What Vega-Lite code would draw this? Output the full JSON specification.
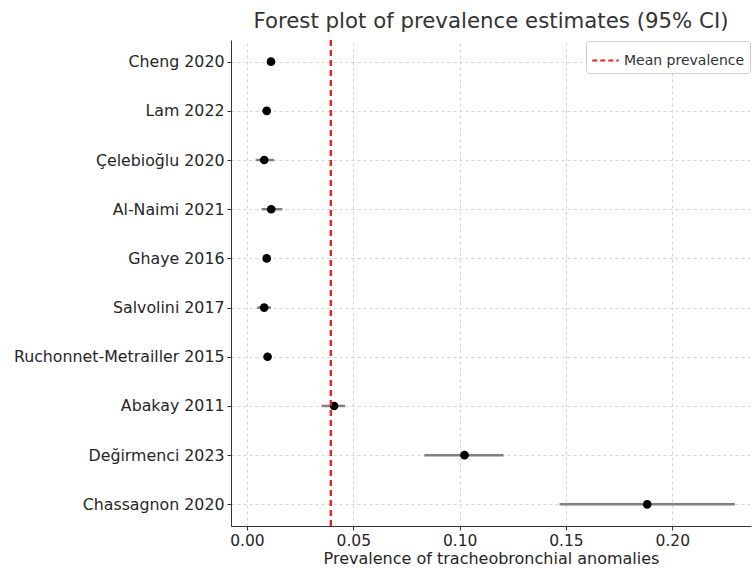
{
  "$schema": "https://vega.github.io/schema/vega-lite/v6.json",
  "autosize": {"type": "none"},
  "width": 520,
  "height": 486,
  "padding": {"left": 231, "top": 40, "right": 1, "bottom": 42},
  "background": "white",
  "config": {
    "font": "DejaVu Sans",
    "view": {"stroke": null},
    "axis": {
      "labelFont": "DejaVu Sans",
      "titleFont": "DejaVu Sans",
      "labelColor": "#262626",
      "titleColor": "#262626",
      "domainColor": "#333333",
      "tickColor": "#333333",
      "gridColor": "#cccccc",
      "gridDash": [3, 3],
      "gridWidth": 0.8,
      "tickSize": 4
    }
  },
  "title": {
    "text": "Forest plot of prevalence estimates (95% CI)",
    "font": "DejaVu Sans",
    "fontSize": 21.3,
    "fontWeight": "normal",
    "color": "#333333",
    "anchor": "middle",
    "dx": 0,
    "offset": 7
  },
  "data": {
    "values": [
      {"study": "Cheng 2020", "est": 0.0113, "lo": 0.0095, "hi": 0.0131},
      {"study": "Lam 2022", "est": 0.0093, "lo": 0.0072, "hi": 0.0108},
      {"study": "Çelebioğlu 2020", "est": 0.0081, "lo": 0.0041, "hi": 0.0128},
      {"study": "Al-Naimi 2021", "est": 0.0114, "lo": 0.0069, "hi": 0.0166},
      {"study": "Ghaye 2016", "est": 0.0093, "lo": 0.0082, "hi": 0.0104},
      {"study": "Salvolini 2017", "est": 0.0081, "lo": 0.0048, "hi": 0.0113},
      {"study": "Ruchonnet-Metrailler 2015", "est": 0.0097, "lo": 0.0086, "hi": 0.0108},
      {"study": "Abakay 2011", "est": 0.041, "lo": 0.0351, "hi": 0.0461},
      {"study": "Değirmenci 2023", "est": 0.1023, "lo": 0.0834, "hi": 0.1206},
      {"study": "Chassagnon 2020", "est": 0.1882, "lo": 0.147, "hi": 0.2294}
    ]
  },
  "layer": [
    {
      "mark": {"type": "rule", "color": "#808080", "strokeWidth": 2.5},
      "encoding": {
        "y": {
          "field": "study",
          "type": "nominal",
          "sort": null,
          "scale": {"type": "point", "padding": 0.44},
          "axis": {
            "title": null,
            "labelFontSize": 15.8,
            "labelPadding": 3,
            "labelLimit": 400,
            "grid": true
          }
        },
        "x": {
          "field": "lo",
          "type": "quantitative",
          "scale": {"domain": [-0.0075, 0.237], "nice": false, "zero": false},
          "axis": {
            "title": "Prevalence of tracheobronchial anomalies",
            "titleFontSize": 16,
            "titleFontWeight": "normal",
            "titlePadding": 2,
            "labelFontSize": 15.5,
            "labelPadding": 3,
            "values": [0, 0.05, 0.1, 0.15, 0.2],
            "format": ".2f",
            "grid": true
          }
        },
        "x2": {"field": "hi"}
      }
    },
    {
      "mark": {"type": "point", "filled": true, "color": "black", "opacity": 1, "size": 75},
      "encoding": {
        "y": {"field": "study", "type": "nominal", "sort": null},
        "x": {"field": "est", "type": "quantitative"}
      }
    },
    {
      "mark": {"type": "rule", "strokeDash": [6, 4], "strokeWidth": 2},
      "encoding": {
        "x": {"datum": 0.0395, "type": "quantitative"},
        "color": {
          "datum": "Mean prevalence",
          "type": "nominal",
          "scale": {"range": ["#e8221e"]},
          "legend": {
            "title": null,
            "orient": "top-right",
            "offset": 1,
            "labelFontSize": 14,
            "labelColor": "#333333",
            "labelFont": "DejaVu Sans",
            "symbolType": "stroke",
            "symbolDash": [5, 3],
            "symbolStrokeWidth": 2,
            "symbolSize": 700,
            "fillColor": "white",
            "strokeColor": "#cccccc",
            "cornerRadius": 3,
            "padding": 5
          }
        }
      }
    }
  ]
}
